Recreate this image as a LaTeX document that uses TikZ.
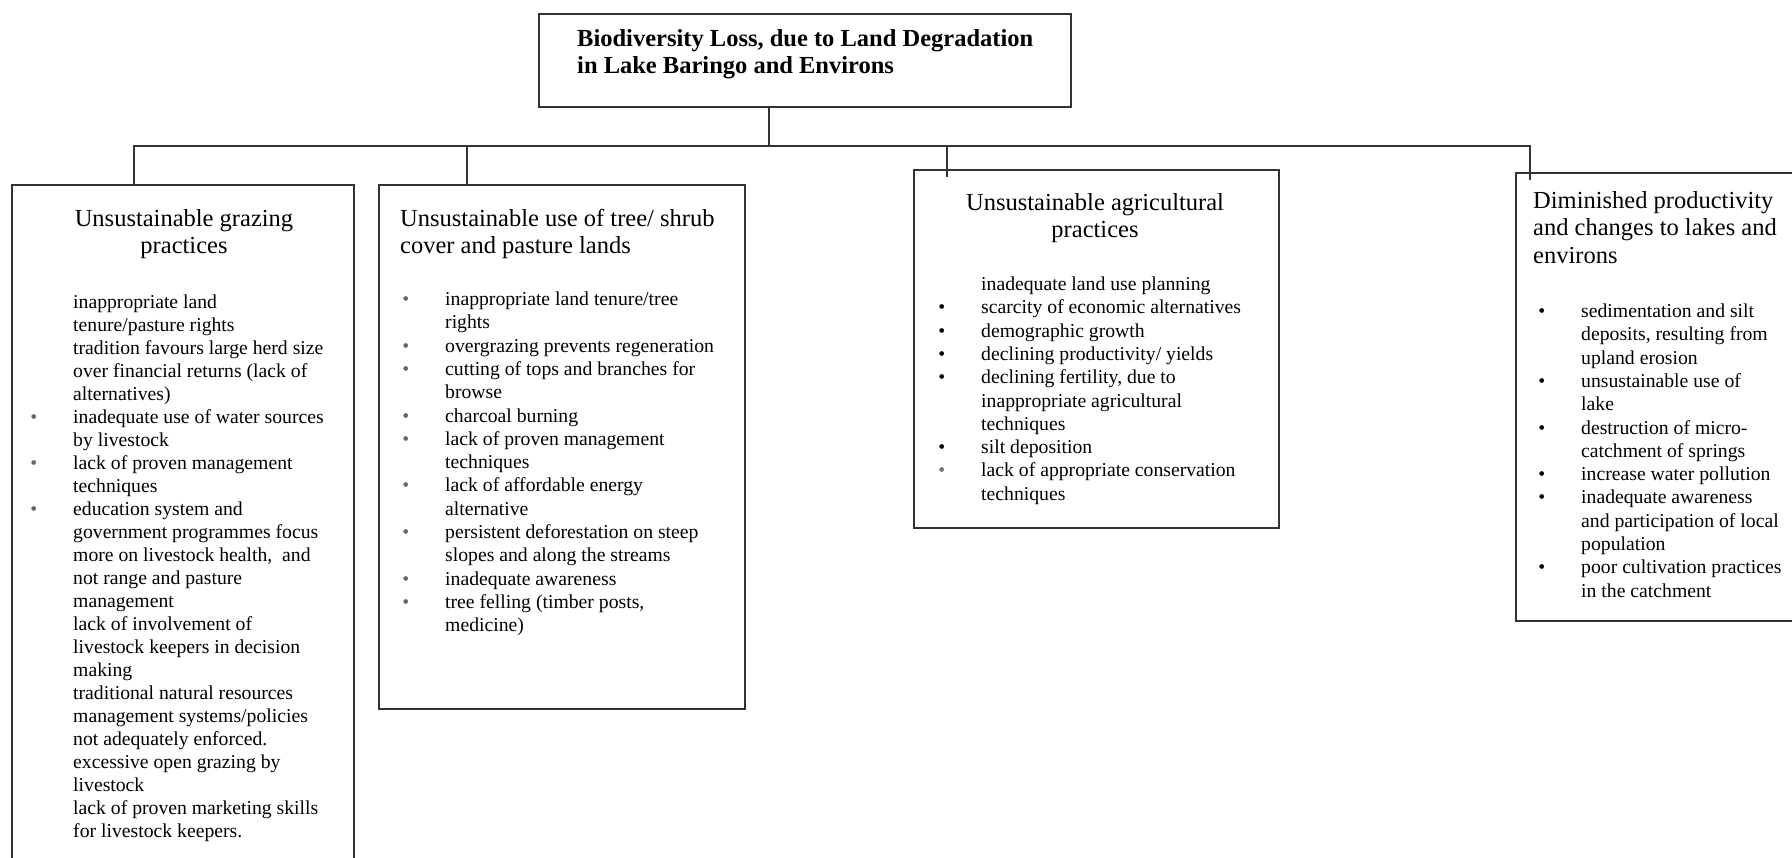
\documentclass[tikz,border=0pt]{standalone}
\usepackage{fontspec}
\setmainfont{Liberation Serif}
\usetikzlibrary{positioning}
\definecolor{inkgray}{gray}{0.2}
\newcommand\bul[1][black]{\leavevmode\llap{\textcolor{#1}{\textbullet}\hspace{36pt}}}
\tikzset{
  causebox/.style={draw=inkgray, line width=1.6pt, anchor=north west, inner sep=0pt},
  headtxt/.style={inner sep=0pt, anchor=north, align=center, font=\fontsize{24.5}{27.5}\selectfont},
  listtxt/.style={inner sep=0pt, anchor=north west, align=left, font=\fontsize{19.7}{23.3}\selectfont},
  link/.style={draw=inkgray, line width=1.5pt}
}
\begin{document}
\begin{tikzpicture}[x=1pt, y=-1pt]
\useasboundingbox (0,0) rectangle (1792,858);

% main problem
\node[causebox, minimum width=532pt, minimum height=93pt] (loss) at (538,13) {};
\node[inner sep=0pt, anchor=north west, align=left, font=\bfseries\fontsize{24.5}{27}\selectfont] (losstxt) at (577,27) {\strut Biodiversity Loss, due to Land Degradation\\in Lake Baringo and Environs};

% the four causes
\node[causebox, minimum width=342pt, minimum height=680pt] (grazing) at (11,184) {};
\node[causebox, minimum width=366pt, minimum height=524pt] (treecover) at (378,184) {};
\node[causebox, minimum width=365pt, minimum height=358pt] (agri) at (913,169) {};
\node[causebox, minimum width=290pt, minimum height=448pt] (lakes) at (1515,172) {};

\node[headtxt] (grazinghead) at (184,207) {\strut Unsustainable grazing\\practices};
\node[headtxt, anchor=north west, align=left] (treehead) at (400,207) {\strut Unsustainable use of tree/ shrub\\cover and pasture lands};
\node[headtxt] (agrihead) at (1095,191) {\strut Unsustainable agricultural\\practices};
\node[headtxt, anchor=north west, align=left] (lakeshead) at (1533,189) {\strut Diminished productivity\\and changes to lakes and\\environs};

\node[listtxt, font=\fontsize{19.7}{23}\selectfont] (grazinglist) at (73,292) {\strut inappropriate land\\
tenure/pasture rights\\
tradition favours large herd size\\
over financial returns (lack of\\
alternatives)\\
\bul[black!60]inadequate use of water sources\\
by livestock\\
\bul[black!60]lack of proven management\\
techniques\\
\bul[black!60]education system and\\
government programmes focus\\
more on livestock health,\ \ and\\
not range and pasture\\
management\\
lack of involvement of\\
livestock keepers in decision\\
making\\
traditional natural resources\\
management systems/policies\\
not adequately enforced.\\
excessive open grazing by\\
livestock\\
lack of proven marketing skills\\
for livestock keepers.};

\node[listtxt] (treelist) at (445,289) {\bul[black!60]\strut inappropriate land tenure/tree\\
rights\\
\bul[black!60]overgrazing prevents regeneration\\
\bul[black!60]cutting of tops and branches for\\
browse\\
\bul[black!60]charcoal burning\\
\bul[black!60]lack of proven management\\
techniques\\
\bul[black!60]lack of affordable energy\\
alternative\\
\bul[black!60]persistent deforestation on steep\\
slopes and along the streams\\
\bul[black!60]inadequate awareness\\
\bul[black!60]tree felling (timber posts,\\
medicine)};

\node[listtxt] (agrilist) at (981,274) {\strut inadequate land use planning\\
\bul scarcity of economic alternatives\\
\bul demographic growth\\
\bul declining productivity/ yields\\
\bul declining fertility, due to\\
inappropriate agricultural\\
techniques\\
\bul silt deposition\\
\bul[black!55]lack of appropriate conservation\\
techniques};

\node[listtxt] (lakeslist) at (1581,301) {\bul\strut sedimentation and silt\\
deposits, resulting from\\
upland erosion\\
\bul unsustainable use of\\
lake\\
\bul destruction of micro-\\
catchment of springs\\
\bul increase water pollution\\
\bul inadequate awareness\\
and participation of local\\
population\\
\bul poor cultivation practices\\
in the catchment};

% connectors
\coordinate (hub) at (769,146);
\coordinate (bus1) at (134,146);
\coordinate (bus2) at (467,146);
\coordinate (bus3) at (947,146);
\coordinate (bus4) at (1530,146);
\draw[link] (loss.south -| hub) -- (hub);
\draw[link] (bus1 |- grazing.north) -- (bus1) -- (bus4) -- ([yshift=-8pt]bus4 |- lakes.north);
\draw[link] (bus2) -- (bus2 |- treecover.north);
\draw[link] (bus3) -- ([yshift=-8pt]bus3 |- agri.north);
\end{tikzpicture}
\end{document}
